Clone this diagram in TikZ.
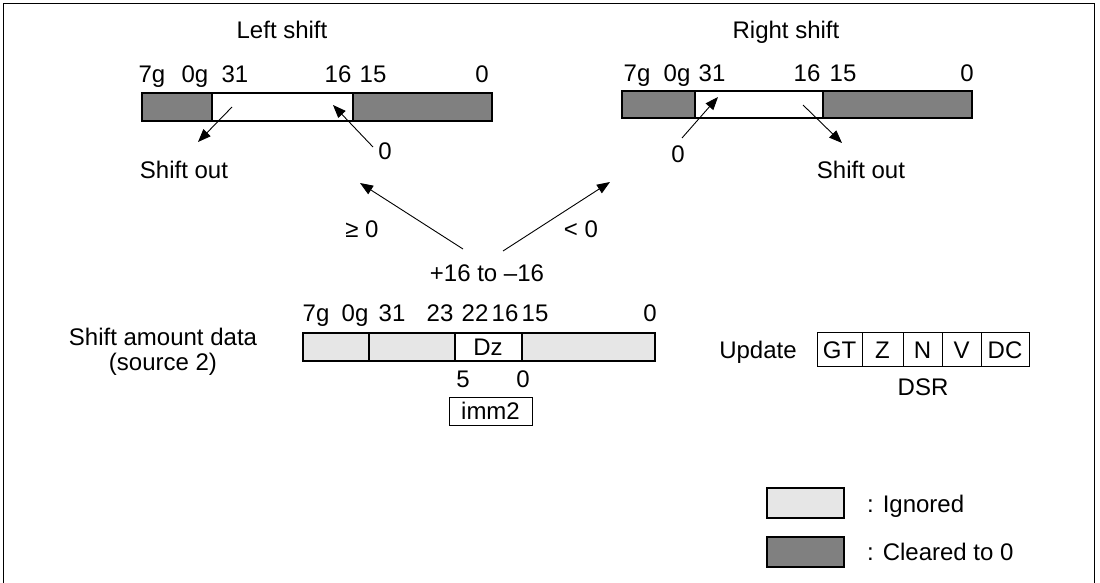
\documentclass[tikz,border=0pt]{standalone}
\usepackage{fontspec}
\setmainfont{Liberation Sans}
\usetikzlibrary{arrows.meta}
\definecolor{cleared}{HTML}{808080}
\definecolor{ignored}{HTML}{E6E6E6}

\begin{document}
\begin{tikzpicture}[x=1pt, y=-1pt, font=\fontsize{24}{28}\selectfont,
		field/.style={draw=black, line width=1.2pt},
		ptr/.style={-{Triangle[length=13pt, width=10pt]}, line width=0.9pt},
		txt/.style={anchor=base, inner sep=0pt}]
		\useasboundingbox (0,0) rectangle (1100,583);
		\draw[line width=0.9pt] (3,3) rectangle (1094,590);
		% left shift
		\node[txt] (ltitle) at (282,39) {Left shift};
		\foreach \x/\t in {152/7g, 195/0g, 235/31, 338/16, 373/15, 482/0}
			\node[txt] (lbit\t) at (\x,83) {\t};
		\filldraw[field, fill=cleared] (142,93) rectangle (212,121);
		\filldraw[field, fill=white] (212,93) rectangle (353,121);
		\filldraw[field, fill=cleared] (353,93) rectangle (492,121);
		\node[txt] (lout) at (184,178) {Shift out};
		\node[txt] (lzero) at (385,159) {0};
		\coordinate (lout-tail) at (232,107);
		\coordinate (lout-head) at (198,142);
		\coordinate (lzero-tail) at (373,147);
		\coordinate (lzero-head) at (333,105);
		\draw[ptr] (lout-tail) -- (lout-head);
		\draw[ptr] (lzero-tail) -- (lzero-head);
		% right shift
		\node[txt] (rtitle) at (786,39) {Right shift};
		\foreach \x/\t in {637/7g, 677/0g, 712/31, 807/16, 843/15, 967/0}
			\node[txt] (rbit\t) at (\x,82) {\t};
		\filldraw[field, fill=cleared] (622,91) rectangle (695,118);
		\filldraw[field, fill=white] (695,91) rectangle (823,118);
		\filldraw[field, fill=cleared] (823,91) rectangle (972,118);
		\node[txt] (rzero) at (678,162) {0};
		\node[txt] (rout) at (861,178) {Shift out};
		\coordinate (rzero-tail) at (682,138);
		\coordinate (rzero-head) at (718,97);
		\coordinate (rout-tail) at (803,105);
		\coordinate (rout-head) at (842,143);
		\draw[ptr] (rzero-tail) -- (rzero-head);
		\draw[ptr] (rout-tail) -- (rout-head);
		% selection by shift amount
		\node[txt] (range) at (487,281) {+16 to \textendash16};
		\node[txt] (ge) at (362,237) {≥ 0};
		\node[txt] (lt) at (581,237) {< 0};
		\coordinate (ge-tail) at (463,249);
		\coordinate (ge-head) at (360,183);
		\coordinate (lt-tail) at (503,251);
		\coordinate (lt-head) at (610,182);
		\draw[ptr] (ge-tail) -- (ge-head);
		\draw[ptr] (lt-tail) -- (lt-head);
		% shift amount data
		\node[txt] (src1) at (163,345) {Shift amount data};
		\node[txt] (src2) at (163,370) {(source 2)};
		\foreach \x/\t in {316/7g, 355/0g, 392/31, 440/23, 475/22, 505/16, 535/15, 650/0}
			\node[txt] (sbit\t) at (\x,321) {\t};
		\filldraw[field, fill=ignored] (303,333) rectangle (369,361);
		\filldraw[field, fill=ignored] (369,333) rectangle (455,361);
		\filldraw[field, fill=white] (455,333) rectangle (522,361);
		\filldraw[field, fill=ignored] (522,333) rectangle (655,361);
		\node[txt] (dz) at (488,355) {Dz};
		\node[txt] (ibit5) at (463,387) {5};
		\node[txt] (ibit0) at (523,387) {0};
		\node[draw, line width=1pt, minimum width=83pt, minimum height=28pt, inner sep=0pt] (imm) at (490.5,411) {imm2};
		% DSR
		\node[txt] (update) at (758,358) {Update};
		\foreach \a/\b/\t in {817/862/GT, 862/903/Z, 903/942/N, 942/981/V, 981/1029/DC} {
			\draw[line width=1pt] (\a,332) rectangle (\b,366);
			\node[txt] (dsr\t) at ({(\a+\b)/2},358) {\t};
		}
		\node[txt] (dsr) at (923,395) {DSR};
		% legend
		\filldraw[field, fill=ignored] (767,488) rectangle (844,518);
		\filldraw[field, fill=cleared] (767,537) rectangle (844,567);
		\node[txt, anchor=base west] (kign) at (867,512) {: Ignored};
		\node[txt, anchor=base west] (kclr) at (867,560) {: Cleared to 0};
	\end{tikzpicture}
\end{document}
